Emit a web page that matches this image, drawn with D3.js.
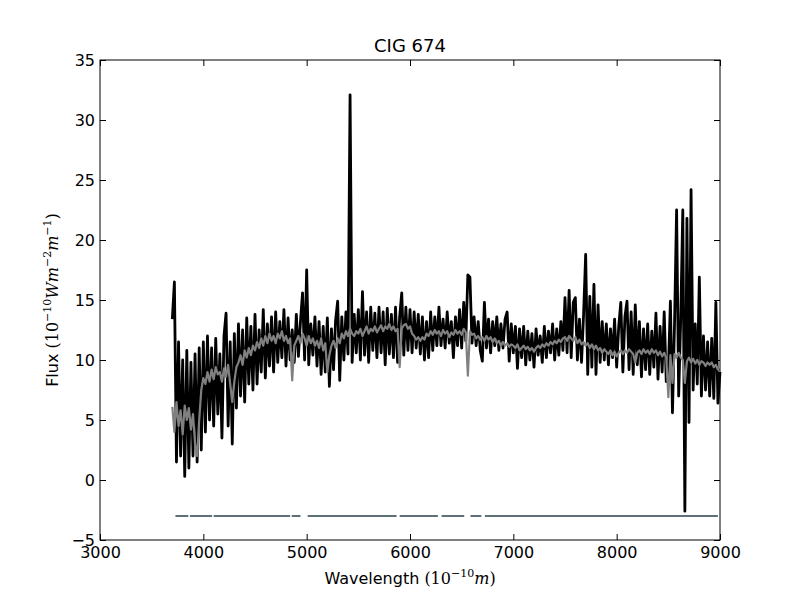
<!DOCTYPE html>
<html>
<head>
<meta charset="utf-8">
<script src="https://d3js.org/d3.v7.min.js"></script>
<style>
  body { margin: 0; background: #fff; }
  .tick text { font-family: "DejaVu Sans", sans-serif; font-size: 16px; fill: #000; }
  .tick line { stroke: #000; }
  .axis path.domain { display: none; }
</style>
</head>
<body>
<div id="chart"></div>
<script>
// spectrum sampled every 20 A from 3700 to 9000
var waveStart = 3700, waveStep = 20;

// observed flux (black)
var fluxObs = [
  13.4, 16.5, 1.5, 11.5, 2.0, 10.0, 0.3, 10.8, 1.0, 9.8,
  2.0, 10.5, 1.5, 11.0, 2.5, 11.5, 4.0, 12.0, 5.0, 11.0,
  4.5, 11.8, 5.5, 10.5, 3.5, 12.0, 13.9, 4.5, 11.5, 3.0,
  12.2, 6.0, 13.0, 7.0, 12.5, 6.5, 13.5, 8.0, 12.8, 7.5,
  13.8, 8.0, 12.5, 9.0, 14.2, 8.5, 13.0, 9.5, 13.6, 9.0,
  14.0, 9.8, 13.2, 10.2, 14.2, 9.5, 13.5, 10.0, 12.5, 9.8,
  13.8, 10.3, 13.2, 15.6, 10.0, 17.5, 9.6, 13.0, 10.4, 13.6,
  9.5, 13.2, 8.8, 12.8, 9.0, 13.5, 7.8, 12.6, 9.2, 13.3,
  14.9, 8.3, 13.6, 10.0, 14.0, 10.5, 32.1, 9.8, 13.8, 10.6,
  14.2, 10.0, 15.7, 10.4, 14.0, 9.8, 14.4, 10.8, 13.9, 10.2,
  14.4, 10.6, 14.0, 9.6, 14.3, 10.5, 13.8, 10.2, 14.4, 9.8,
  13.6, 15.6, 10.4, 14.4, 10.8, 14.2, 10.6, 14.0, 11.0, 13.8,
  10.5, 13.6, 10.0, 13.2, 10.2, 14.0, 10.8, 13.6, 11.2, 14.4,
  11.2, 13.4, 11.0, 14.0, 11.4, 13.2, 10.2, 13.6, 11.2, 14.2,
  11.0, 14.8, 11.6, 17.1, 16.9, 11.4, 13.6, 11.2, 13.2, 10.8,
  9.9, 14.8, 11.0, 13.4, 10.6, 13.2, 11.2, 13.6, 10.8, 13.0,
  11.0, 13.4, 14.0, 9.9, 13.0, 10.6, 12.8, 9.3, 12.6, 10.2,
  12.8, 9.6, 12.4, 10.0, 12.2, 9.4, 12.6, 10.4, 12.0, 9.8,
  12.8, 10.2, 12.4, 10.6, 13.0, 10.0, 12.6, 10.4, 13.2, 10.8,
  15.2, 10.6, 15.8, 10.2, 14.8, 15.2, 10.0, 13.4, 9.8, 13.8,
  18.8, 8.8, 15.3, 9.4, 16.3, 8.8, 14.6, 9.8, 13.2, 10.0,
  13.0, 9.6, 12.6, 10.2, 13.4, 9.4, 12.8, 14.8, 9.0, 13.6,
  14.9, 9.2, 14.0, 8.8, 14.6, 9.6, 13.2, 8.6, 12.6, 9.2,
  13.0, 8.8, 12.4, 9.4, 13.9, 8.4, 12.8, 9.0, 14.0, 8.2,
  9.0, 14.9, 5.6, 13.0, 22.5, 7.0, 13.5, 22.5, -2.6, 21.8,
  4.8, 24.2, 7.5, 13.0, 8.0, 16.9, 7.0, 12.0, 7.5, 11.5,
  7.0, 11.8, 6.8, 14.8, 6.4, 9.0
];

// model fit (gray)
var fluxModel = [
  6.1, 4.0, 6.5, 4.5, 5.8, 3.8, 6.2, 5.0, 6.0, 4.2,
  5.5, 3.0, 2.0, 5.0, 7.5, 8.5, 8.0, 9.0, 8.2, 9.2,
  8.4, 9.4, 8.8, 9.0, 8.2, 9.3, 8.6, 9.6, 8.0, 6.5,
  8.2, 9.4, 9.8, 10.4, 9.6, 10.8, 10.2, 11.0, 10.4, 11.2,
  10.8, 11.5, 11.0, 11.8, 11.2, 12.0, 11.4, 12.2, 11.6, 12.0,
  11.4, 12.2, 11.8, 12.4, 11.6, 12.0, 11.4, 11.8, 8.3, 11.2,
  11.6, 12.0, 11.4, 12.2, 11.8, 11.2, 12.0, 11.4, 11.8, 11.2,
  11.6, 11.0, 11.8, 10.8, 11.4, 9.0, 10.4, 11.2, 11.6, 11.0,
  11.8, 11.4, 12.2, 11.8, 12.4, 12.0, 12.6, 12.2, 12.0, 12.4,
  12.2, 12.6, 12.0, 12.4, 12.8, 12.2, 12.6, 12.4, 12.8, 12.3,
  12.6, 12.9, 12.4, 12.8, 12.6, 13.0, 12.5, 12.8, 12.4, 12.6,
  9.4, 12.6, 12.9, 13.0, 12.6, 12.8, 12.2, 12.0, 11.7, 11.9,
  11.6, 11.9, 11.7, 12.2, 12.0, 12.4, 12.1, 12.5, 12.2, 12.4,
  12.0, 12.5, 12.2, 12.4, 11.9, 12.3, 12.1, 12.5, 12.2, 12.4,
  12.1, 12.6, 12.3, 8.7, 12.4, 12.1, 12.2, 11.8, 12.0, 11.7,
  11.9, 11.6, 12.0, 11.7, 11.9, 11.5, 11.8, 11.4, 11.6, 11.2,
  11.5, 11.2, 11.4, 11.1, 11.3, 11.2, 11.0, 11.3, 10.8, 11.0,
  11.2, 10.9, 11.1, 10.8, 11.0, 10.7, 11.0, 11.2, 11.0, 11.3,
  11.1, 11.4, 11.2, 11.5, 11.3, 11.6, 11.4, 11.7, 11.5, 11.8,
  11.9, 11.6, 12.0, 11.8, 11.6, 11.9, 11.4, 11.7, 11.3, 11.5,
  11.2, 11.4, 11.0, 11.3, 10.9, 11.2, 10.8, 11.0, 10.6, 10.9,
  10.7, 10.5, 10.8, 10.4, 10.7, 10.3, 10.6, 10.8, 10.5, 10.8,
  10.6, 10.9, 10.7, 10.5, 9.8, 10.6, 10.8, 10.5, 10.9, 10.6,
  10.8, 10.5, 10.9, 10.6, 10.8, 10.4, 10.7, 10.3, 10.6, 10.2,
  6.9, 10.4, 8.1, 10.5, 10.2, 10.6, 10.2, 10.0, 8.1, 9.9,
  10.2, 9.8, 10.1, 9.7, 10.0, 9.6, 9.9, 9.8, 9.5, 9.8,
  9.6, 9.8, 9.4, 9.6, 9.2, 9.2
];

// masked regions, drawn at flux -3
var maskStart = [3730, 3870, 4100, 4855, 5010, 5900, 6305, 6585, 6725];
var maskEnd   = [3855, 4085, 4840, 4940, 5870, 6270, 6525, 6690, 8980];
var maskLevel = -3;

var xTicks = [3000, 4000, 5000, 6000, 7000, 8000, 9000];
var yTicks = [-5, 0, 5, 10, 15, 20, 25, 30, 35];

var m = [60, 80, 60, 100]; // top right bottom left
var w = 800 - m[1] - m[3];
var h = 600 - m[0] - m[2];

var wave = d3.range(fluxObs.length).map(function(i) { return waveStart + i * waveStep; });

var x = d3.scaleLinear().domain([3000, 9000]).range([0, w]);
var y = d3.scaleLinear().domain([-5, 35]).range([h, 0]);

var svg = d3.select("#chart").append("svg")
  .attr("width", 800)
  .attr("height", 600);

var graph = svg.append("g")
  .attr("transform", "translate(" + m[3] + "," + m[0] + ")");

var line = d3.line()
  .x(function(d) { return x(d[0]); })
  .y(function(d) { return y(d[1]); });

graph.append("path")
  .attr("d", line(wave.map(function(wl, i) { return [wl, fluxObs[i]]; })))
  .attr("fill", "none")
  .attr("stroke", "#000")
  .attr("stroke-width", 2.8)
  .attr("stroke-linejoin", "round");

graph.append("path")
  .attr("d", line(wave.map(function(wl, i) { return [wl, fluxModel[i]]; })))
  .attr("fill", "none")
  .attr("stroke", "#808080")
  .attr("stroke-width", 2.2)
  .attr("stroke-linejoin", "round");

for (let j = 0; j < maskStart.length; j++) {
  graph.append("path")
    .attr("d", line([[maskStart[j], maskLevel], [maskEnd[j], maskLevel]]))
    .attr("stroke", "#607078")
    .attr("stroke-width", 2);
}

// axes with inward ticks on all four sides
graph.append("g").attr("class", "axis")
  .attr("transform", "translate(0," + h + ")")
  .call(d3.axisBottom(x).tickValues(xTicks).tickSize(-6).tickPadding(7).tickFormat(d3.format("d")));
graph.append("g").attr("class", "axis")
  .call(d3.axisTop(x).tickValues(xTicks).tickSize(-6).tickFormat(""));
graph.append("g").attr("class", "axis")
  .call(d3.axisLeft(y).tickValues(yTicks).tickSize(-6).tickPadding(5).tickFormat(d3.format("d")));
graph.append("g").attr("class", "axis")
  .attr("transform", "translate(" + w + ",0)")
  .call(d3.axisRight(y).tickValues(yTicks).tickSize(-6).tickFormat(""));

graph.append("rect")
  .attr("width", w).attr("height", h)
  .attr("fill", "none").attr("stroke", "#000").attr("stroke-width", 1);

// title
svg.append("text")
  .attr("x", m[3] + w / 2).attr("y", 52)
  .attr("text-anchor", "middle")
  .style("font-family", "DejaVu Sans, sans-serif")
  .style("font-size", "18px")
  .text("CIG 674");

// x label
var xl = svg.append("text")
  .attr("x", m[3] + w / 2).attr("y", 584)
  .attr("text-anchor", "middle")
  .style("font-family", "DejaVu Sans, sans-serif")
  .style("font-size", "16px");
xl.append("tspan").text("Wavelength ");
xl.append("tspan").style("font-family", "DejaVu Serif, serif").text("(10");
xl.append("tspan").style("font-family", "DejaVu Serif, serif").style("font-size", "11px")
  .attr("dy", -7).text("\u221210");
xl.append("tspan").style("font-family", "DejaVu Serif, serif").style("font-style", "italic")
  .attr("dy", 7).text("m");
xl.append("tspan").style("font-family", "DejaVu Serif, serif").text(")");

// y label
var yl = svg.append("text")
  .attr("transform", "translate(58," + (m[0] + h / 2) + ") rotate(-90)")
  .attr("text-anchor", "middle")
  .style("font-family", "DejaVu Sans, sans-serif")
  .style("font-size", "16px");
yl.append("tspan").text("Flux ");
yl.append("tspan").style("font-family", "DejaVu Serif, serif").text("(10");
yl.append("tspan").style("font-family", "DejaVu Serif, serif").style("font-size", "11px")
  .attr("dy", -7).text("\u221210");
yl.append("tspan").style("font-family", "DejaVu Serif, serif").style("font-style", "italic")
  .attr("dy", 7).text("Wm");
yl.append("tspan").style("font-family", "DejaVu Serif, serif").style("font-size", "11px")
  .attr("dy", -7).text("\u22122");
yl.append("tspan").style("font-family", "DejaVu Serif, serif").style("font-style", "italic")
  .attr("dy", 7).text("m");
yl.append("tspan").style("font-family", "DejaVu Serif, serif").style("font-size", "11px")
  .attr("dy", -7).text("\u22121");
yl.append("tspan").style("font-family", "DejaVu Serif, serif")
  .attr("dy", 7).text(")");
</script>
</body>
</html>
